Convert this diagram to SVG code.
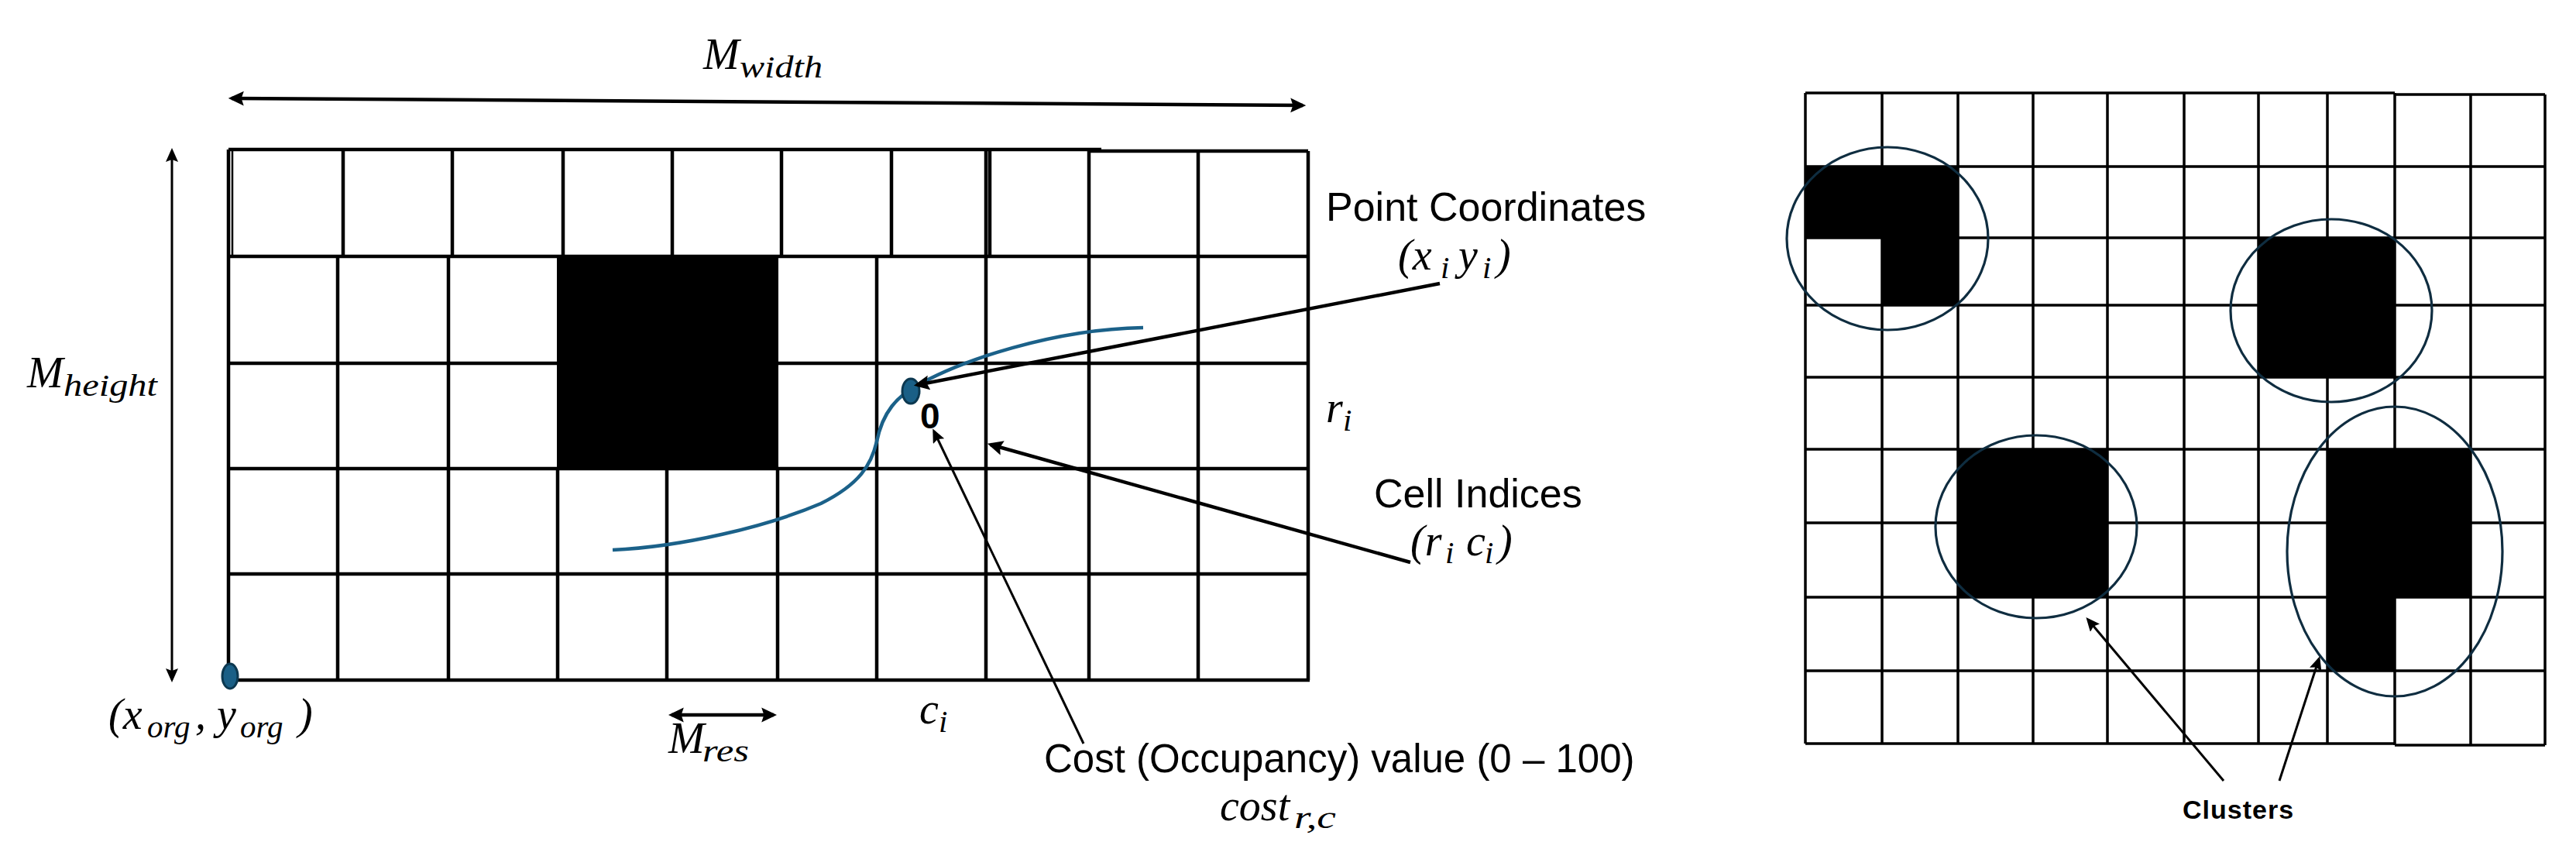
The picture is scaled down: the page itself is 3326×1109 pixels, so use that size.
<svg xmlns="http://www.w3.org/2000/svg" width="3326" height="1109" viewBox="0 0 3326 1109">
  <style>
    .g { stroke: #000; stroke-width: 4.5; fill: none; }
    .g2 { stroke: #000; stroke-width: 3.5; fill: none; }
    .blk { fill: #000; }
    .cl { fill: none; stroke: #0f2d40; stroke-width: 3.2; }
    .ar { stroke: #000; fill: none; }
    .lbl { font-family: "Liberation Sans", Arial, sans-serif; font-size: 52px; fill: #000; }
    .math { font-family: "Liberation Serif", "Times New Roman", serif; font-style: italic; font-size: 56px; fill: #000; }
    .sub { font-size: 41px; }
    .dot { fill: #1a5f86; stroke: #0c3850; stroke-width: 3; }
  </style>
  <defs>
    <marker id="ah" markerUnits="userSpaceOnUse" markerWidth="20" markerHeight="20" refX="15" refY="9" orient="auto-start-reverse" viewBox="0 0 19 18">
      <path d="M0,0 L19,9 L0,18 L3,9 z" fill="#000"/>
    </marker>
    <marker id="ahs" markerUnits="userSpaceOnUse" markerWidth="18" markerHeight="16" refX="14" refY="8" orient="auto-start-reverse" viewBox="0 0 18 16">
      <path d="M0,0 L18,8 L0,16 L3,8 z" fill="#000"/>
    </marker>
  </defs>
  <rect width="3326" height="1109" fill="#fff"/>

  <!-- Left occupancy grid -->
  <g id="left-grid">
    <rect class="blk" x="719" y="332" width="286" height="273"/>
    <path class="g" d="M295,193 H1422 M1405,195 H1689"/>
    <path class="g" stroke-width="6" d="M295,331 H1689"/>
    <path class="g" style="stroke-width:2.5" d="M300,193 V331"/>
    <path class="g" d="M295,193 V878 M443,193 V331 M584,193 V331 M727,193 V331 M868,193 V331 M1009,193 V331 M1151,193 V331 M1273,193 V331 M1278,193 V331 M1406,195 V331 M1547,195 V331 M1689,195 V878"/>
    <path class="g" d="M436,331 V878 M579,331 V878 M720,605 V878 M861,605 V878 M1004,605 V878 M1132,331 V878 M1273,331 V878 M1406,331 V878 M1547,331 V878"/>
    <path class="g" d="M295,469 H719 M1005,469 H1689 M295,605 H1689 M295,741 H1689 M295,878 H1691"/>
  </g>

  <!-- Path curve and points -->
  <g id="path-curve">
    <path d="M791,710 C880,706 990,680 1060,650 C1110,625 1125,600 1132,570 C1140,530 1160,512 1180,500 C1240,465 1360,425 1476,423" fill="none" stroke="#1b6189" stroke-width="4.5"/>
  </g>
  <g id="point-dot"><ellipse class="dot" cx="1176" cy="505" rx="11" ry="16"/></g>
  <g id="origin-dot"><ellipse class="dot" cx="297" cy="873" rx="10" ry="16"/></g>

  <!-- Right cluster grid -->
  <g id="right-grid">
    <rect class="blk" x="2331" y="215" width="197" height="92"/>
    <rect class="blk" x="2430" y="307" width="98" height="87"/>
    <rect class="blk" x="2916" y="307" width="176" height="180"/>
    <rect class="blk" x="2528" y="580" width="193" height="191"/>
    <rect class="blk" x="3005" y="580" width="185" height="191"/>
    <rect class="blk" x="3005" y="771" width="87" height="95"/>
    <path class="g2" d="M2331,120 V960 M2430,120 V960 M2528,120 V960 M2625,120 V960 M2721,120 V960 M2820,120 V960 M2916,120 V960 M3005,120 V960 M3092,120 V962 M3190,122 V962 M3286,122 V962"/>
    <path class="g2" d="M2331,120 H3092 M3092,122 H3286 M2331,215 H3286 M2331,307 H3286 M2331,394 H3286 M2331,487 H3286 M2331,580 H3286 M2331,675 H3286 M2331,771 H3286 M2331,866 H3286 M2331,960 H3092 M3092,962 H3286"/>
  </g>
  <g id="clusters">
    <ellipse class="cl" cx="2437" cy="308" rx="130" ry="118"/>
    <ellipse class="cl" cx="3010" cy="401" rx="130" ry="118"/>
    <ellipse class="cl" cx="2629" cy="680" rx="130" ry="118"/>
    <ellipse class="cl" cx="3092" cy="712" rx="139" ry="187"/>
  </g>

  <!-- Connectors -->
  <g id="connectors">
    <line class="ar" stroke-width="4.5" x1="299" y1="127" x2="1682" y2="136" marker-start="url(#ah)" marker-end="url(#ah)"/>
    <line class="ar" stroke-width="3" x1="222" y1="195" x2="222" y2="877" marker-start="url(#ahs)" marker-end="url(#ahs)"/>
    <line class="ar" stroke-width="4.5" x1="867" y1="923" x2="999" y2="923" marker-start="url(#ah)" marker-end="url(#ah)"/>
    <line class="ar" stroke-width="4.5" x1="1859" y1="366" x2="1184" y2="497" marker-end="url(#ah)"/>
    <line class="ar" stroke-width="4.5" x1="1821" y1="726" x2="1279" y2="574" marker-end="url(#ah)"/>
    <line class="ar" stroke-width="3" x1="1399" y1="960" x2="1206" y2="557" marker-end="url(#ahs)"/>
    <line class="ar" stroke-width="3" x1="2871" y1="1008" x2="2696" y2="800" marker-end="url(#ahs)"/>
    <line class="ar" stroke-width="3" x1="2943" y1="1008" x2="2994" y2="851" marker-end="url(#ahs)"/>
  </g>

  <!-- Labels -->
  <g id="label-mwidth">
    <text class="math" x="908" y="89">M</text>
    <text class="math sub" x="955" y="100" textLength="107" lengthAdjust="spacingAndGlyphs">width</text>
  </g>
  <g id="label-mheight">
    <text class="math" x="35" y="500">M</text>
    <text class="math sub" x="82" y="511" textLength="121" lengthAdjust="spacingAndGlyphs">height</text>
  </g>
  <g id="label-origin">
    <text class="math" x="140" y="941">(x</text>
    <text class="math sub" x="190" y="952">org</text>
    <text class="math" x="252" y="941">, y</text>
    <text class="math sub" x="310" y="952">org</text>
    <text class="math" x="385" y="941">)</text>
  </g>
  <g id="label-mres">
    <text class="math" x="863" y="972">M</text>
    <text class="math sub" x="907" y="983" textLength="60" lengthAdjust="spacingAndGlyphs">res</text>
  </g>
  <g id="label-ci">
    <text class="math" x="1187" y="934">c</text>
    <text class="math sub" x="1212" y="945">i</text>
  </g>
  <g id="label-ri">
    <text class="math" x="1712" y="545">r</text>
    <text class="math sub" x="1734" y="556">i</text>
  </g>
  <g id="label-cost-value">
    <text class="lbl" x="1188" y="553" style="font-size:46px;font-weight:bold">0</text>
  </g>
  <g id="label-point">
    <text class="lbl" x="1712" y="285">Point Coordinates</text>
    <text class="math" x="1805" y="348">(x</text>
    <text class="math sub" x="1860" y="359">i</text>
    <text class="math" x="1883" y="348">y</text>
    <text class="math sub" x="1914" y="359">i</text>
    <text class="math" x="1932" y="348">)</text>
  </g>
  <g id="label-cell">
    <text class="lbl" x="1774" y="655">Cell Indices</text>
    <text class="math" x="1821" y="717">(r</text>
    <text class="math sub" x="1866" y="727">i</text>
    <text class="math" x="1893" y="717">c</text>
    <text class="math sub" x="1917" y="727">i</text>
    <text class="math" x="1934" y="717">)</text>
  </g>
  <g id="label-cost">
    <text class="lbl" x="1348" y="997" style="font-size:51px">Cost (Occupancy) value (0 – 100)</text>
    <text class="math" x="1575" y="1059">cost</text>
    <text class="math sub" x="1671" y="1069" textLength="54" lengthAdjust="spacingAndGlyphs">r,c</text>
  </g>
  <g id="label-clusters">
    <text class="lbl" x="2818" y="1057" style="font-size:34px;font-weight:bold;letter-spacing:1px">Clusters</text>
  </g>
</svg>
